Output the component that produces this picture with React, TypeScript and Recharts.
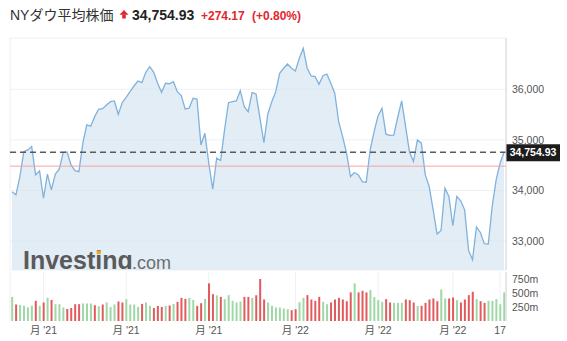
import {
  ComposedChart,
  Area,
  Bar,
  Cell,
  XAxis,
  YAxis,
  CartesianGrid,
  ReferenceLine
} from "recharts";

// 日足終値（読み取り値）
const closes = [
  33973, 33913, 34275, 34768, 34802, 34867, 34308, 34387, 33848, 34322,
  34012, 34322, 34421, 34750, 34760, 34506, 34390, 34372, 34934, 35295,
  35270, 35459, 35605, 35618, 35690, 35755, 35769, 35506, 35735, 35842,
  35953, 36065, 36164, 36130, 36336, 36446, 36336, 36118, 35941, 36118,
  36110, 36150, 35953, 35874, 35611, 35625, 35822, 35808, 34900, 35131,
  34539, 34026, 34638, 34591, 35197, 35735, 35755, 35770, 35972, 35657,
  35558, 35933, 35907, 35428, 34946, 35512, 35755, 35953, 36316, 36415,
  36499, 36415, 36361, 36612, 36809, 36415, 36263, 36249, 36099, 36268,
  36302, 36118, 35921, 35360, 35064, 34737, 34275, 34354, 34308, 34176,
  34164, 34802, 35163, 35473, 35625, 35112, 35089, 35095, 35447, 35769,
  35262, 34756, 34571, 34999, 34934, 34308, 34077, 33617, 33138, 33209,
  34046, 33880, 33302, 33880, 33795, 33617, 32814, 32630, 33276, 33169,
  32946, 32940, 33683, 34210, 34539, 34754.93
];

// 出来高（百万株）
const volumes = [
  434, 297, 290, 272, 243, 272, 362, 272, 333, 416,
  380, 302, 302, 243, 217, 235, 302, 302, 315, 315,
  315, 284, 266, 297, 333, 253, 297, 351, 333, 393,
  297, 297, 253, 308, 333, 272, 235, 272, 253, 272,
  279, 308, 344, 416, 398, 416, 380, 272, 320, 398,
  677, 483, 460, 434, 393, 465, 362, 333, 351, 434,
  434, 416, 465, 755, 387, 333, 272, 243, 243, 224,
  212, 194, 212, 338, 416, 465, 387, 362, 434, 344,
  302, 333, 387, 416, 387, 356, 514, 677, 514, 543,
  514, 556, 430, 375, 344, 393, 333, 326, 326, 326,
  387, 375, 333, 272, 272, 326, 387, 405, 356, 568,
  405, 405, 423, 375, 333, 387, 465, 525, 393, 356,
  326, 362, 362, 393, 302, 514
];

// 1 = 上昇（緑）, 0 = 下落（赤）
const volUp = [
  1, 0, 1, 1, 1, 1, 0, 1, 0, 1,
  0, 1, 1, 1, 0, 0, 0, 0, 1, 1,
  1, 0, 1, 0, 1, 1, 1, 0, 0, 1,
  1, 1, 1, 0, 1, 1, 0, 0, 0, 1,
  0, 1, 0, 0, 0, 1, 1, 0, 0, 1,
  0, 0, 1, 0, 1, 1, 1, 1, 1, 0,
  0, 1, 0, 0, 0, 1, 1, 1, 1, 1,
  1, 0, 0, 1, 1, 0, 0, 0, 0, 1,
  1, 0, 0, 0, 0, 0, 0, 1, 0, 0,
  0, 1, 1, 1, 1, 0, 0, 1, 1, 1,
  0, 0, 0, 1, 0, 0, 0, 0, 0, 1,
  1, 0, 0, 1, 0, 0, 0, 0, 1, 0,
  0, 1, 1, 1, 1, 1
];

const tickIdx = [8, 29, 50, 72, 93, 112, 124];
const tickLabels = ["月 '21", "月 '21", "月 '21", "月 '22", "月 '22", "月 '22", "17"];
const priceTicks = [33000, 34000, 35000, 36000];
const volTicks = [250, 500, 750];

const title = "NYダウ平均株価";
const lastPrice = 34754.93;
const prevClose = 34480.76;
const changeText = "+274.17";
const changePct = "(+0.80%)";

const rows = closes.map((c, i) => ({ i, close: c, vol: volumes[i], up: volUp[i] }));

const fmt = (v: number) => v.toLocaleString("en-US");
const fmtTick = (v: number) => tickLabels[tickIdx.indexOf(v)] ?? "";

const GREEN = "#9fd8a6";
const RED = "#e25a5e";
const AXIS = "#d4d8dc";
const GRID = "#eef0f2";
const TXT = "#555";

const PriceTag = (props: any) => {
  const { viewBox } = props;
  const x = viewBox.x + viewBox.width;
  const y = viewBox.y;
  return (
    <g>
      <rect x={x} y={y - 8} width={54} height={17} fill="#1c1c1c" />
      <text x={x + 27} y={y + 4} textAnchor="middle" fill="#fff" fontSize={10.5} fontWeight="bold">
        {lastPrice.toLocaleString("en-US", { minimumFractionDigits: 2 })}
      </text>
    </g>
  );
};

export default function App() {
  return (
    <div
      style={{
        position: "absolute",
        left: 0,
        top: 0,
        width: 567,
        height: 341,
        background: "#fff",
        fontFamily: 'Arial, "Liberation Sans", "Noto Sans CJK JP", sans-serif'
      }}
    >
      <div style={{ position: "absolute", left: 0, top: 0 }}>
        <ComposedChart width={567} height={272} data={rows} margin={{ top: 38, right: 6, bottom: 2, left: 10 }}>
          <CartesianGrid stroke={GRID} />
          <XAxis
            dataKey="i"
            type="category"
            scale="point"
            padding={{ left: 2, right: 2 }}
            ticks={tickIdx}
            interval={0}
            tick={false}
            tickLine={false}
            height={0}
            axisLine={{ stroke: "#c9c9c9", strokeWidth: 2 }}
          />
          <YAxis
            orientation="right"
            width={55}
            domain={[32427, 37014]}
            ticks={priceTicks}
            interval={0}
            tickFormatter={fmt}
            tickLine={false}
            tickSize={0}
            tickMargin={6}
            axisLine={{ stroke: AXIS }}
            tick={{ fill: TXT, fontSize: 10.5 }}
          />
          <Area
            type="linear"
            dataKey="close"
            stroke="#80b2dc"
            strokeWidth={1.3}
            fill="#d5e5f2"
            fillOpacity={0.7}
            isAnimationActive={false}
            dot={false}
            activeDot={false}
          />
          <ReferenceLine y={prevClose} stroke="#f6a3a3" strokeWidth={1} />
          <ReferenceLine
            y={lastPrice}
            stroke="#5a5a5a"
            strokeWidth={1.4}
            strokeDasharray="6 4"
            label={<PriceTag />}
          />
        </ComposedChart>
      </div>

      <div style={{ position: "absolute", left: 0, top: 270 }}>
        <ComposedChart
          width={567}
          height={71}
          data={rows}
          margin={{ top: 2, right: 6, bottom: 0, left: 10 }}
          barCategoryGap="30%"
        >
          <CartesianGrid stroke={GRID} horizontal={false} />
          <XAxis
            dataKey="i"
            type="category"
            ticks={tickIdx}
            interval={0}
            tickFormatter={fmtTick}
            height={20}
            tickLine={false}
            tickSize={0}
            tickMargin={6}
            axisLine={false}
            tick={{ fill: TXT, fontSize: 10.5 }}
          />
          <YAxis
            orientation="right"
            width={55}
            domain={[0, 881]}
            ticks={volTicks}
            interval={0}
            tickFormatter={(v: number) => `${v}m`}
            tickLine={false}
            tickSize={0}
            tickMargin={6}
            axisLine={{ stroke: AXIS }}
            tick={{ fill: TXT, fontSize: 10.5 }}
          />
          <Bar dataKey="vol" isAnimationActive={false}>
            {rows.map((r) => (
              <Cell key={r.i} fill={r.up ? GREEN : RED} />
            ))}
          </Bar>
        </ComposedChart>
      </div>

      <svg
        width={567}
        height={341}
        style={{ position: "absolute", left: 0, top: 0, pointerEvents: "none" }}
      >
        <defs>
          <clipPath id="wm">
            <rect x={0} y={0} width={567} height={269} />
          </clipPath>
        </defs>
        <text x={10} y={20} fontSize={14} fill="#333">{title}</text>
        <polygon points="124,10 119.5,14.8 128.5,14.8" fill="#e3262b" />
        <rect x={122.2} y={14.5} width={3.6} height={4} fill="#e3262b" />
        <text x={132} y={20} fontSize={14} fontWeight="bold" fill="#222">
          {lastPrice.toLocaleString("en-US", { minimumFractionDigits: 2 })}
        </text>
        <text x={201} y={20} fontSize={12} fontWeight="bold" fill="#e3262b">{changeText}</text>
        <text x={252} y={20} fontSize={12} fontWeight="bold" fill="#e3262b">{changePct}</text>

        <g clipPath="url(#wm)">
          <text x={23} y={268.5} fontSize={25} fontWeight="bold" fill="#5a5a5a">Investing</text>
          <text x={132} y={268.5} fontSize={18} fill="#6e6e6e">.com</text>
          <rect x={96.8} y={250.5} width={3.8} height={3.8} fill="#f4a427" />
        </g>
      </svg>
    </div>
  );
}
